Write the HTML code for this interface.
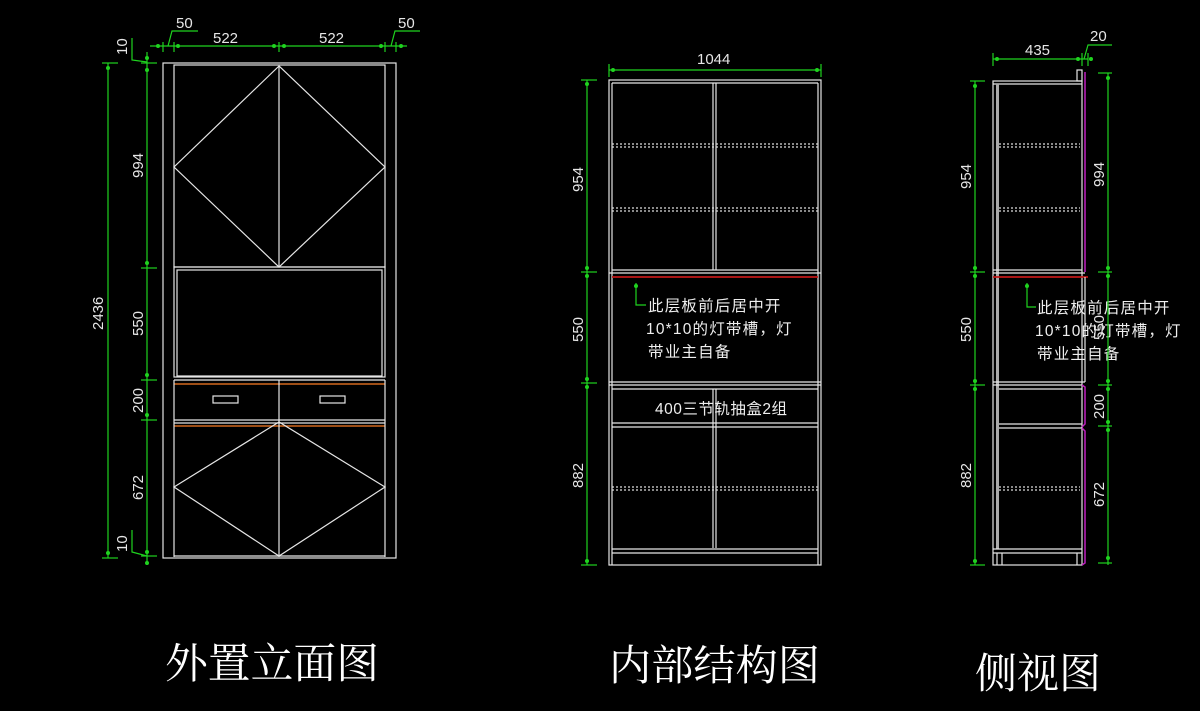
<!DOCTYPE html>
<html><head><meta charset="utf-8"><style>
html,body{margin:0;padding:0;background:#000;}
svg{display:block;}
.w{stroke:#e6e6e6;stroke-width:1.2;fill:none}
.g{stroke:#1fd31f;stroke-width:1.2;fill:none}
.o{stroke:#d2691e;stroke-width:1.5}
.r{stroke:#c01818;stroke-width:1.8}
.m{stroke:#c020c0;stroke-width:1.5;fill:none}
.d{stroke:#ddd;stroke-width:1.2;stroke-dasharray:2 2}
.t{fill:#e6e6e6;font-family:"Liberation Sans",sans-serif;font-size:15px}
.c{fill:#eee;font-family:"Liberation Sans","Noto Sans CJK SC",sans-serif;font-size:15.5px;letter-spacing:1.2px}
.h{fill:#fff;font-family:"Liberation Serif","Noto Serif CJK SC",serif;font-size:42px}
.dot{fill:#1fd31f}
</style></head><body>
<svg width="1200" height="711" viewBox="0 0 1200 711" xmlns="http://www.w3.org/2000/svg">
<!-- LEFT CABINET -->
<rect class="w" x="163" y="63" width="233" height="495"/>
<rect class="w" x="174" y="65" width="211" height="202"/>
<line class="w" x1="279" y1="66" x2="279" y2="267"/>
<polygon class="w" points="279,66 174,167 279,267 385,167" stroke="#bbb"/>
<rect class="w" x="174" y="267" width="211" height="110"/>
<rect class="w" x="177" y="270" width="205" height="106"/>
<line class="w" x1="174" y1="380" x2="385" y2="380"/>
<line class="o" x1="174" y1="384" x2="385" y2="384"/>
<line class="w" x1="279" y1="380" x2="279" y2="420"/>
<rect class="w" x="213" y="396" width="25" height="7"/>
<rect class="w" x="320" y="396" width="25" height="7"/>
<line class="w" x1="174" y1="420" x2="385" y2="420"/>
<line class="w" x1="174" y1="423" x2="385" y2="423"/>
<line class="o" x1="174" y1="426" x2="385" y2="426"/>
<line class="w" x1="174" y1="380" x2="174" y2="557"/>
<line class="w" x1="385" y1="380" x2="385" y2="557"/>
<line class="w" x1="279" y1="420" x2="279" y2="557"/>
<polygon class="w" points="279,422 174,487 279,556 385,487" stroke="#bbb"/>
<line class="w" x1="174" y1="556" x2="385" y2="556"/>
<!-- left dims -->
<line class="g" x1="150" y1="46" x2="407" y2="46"/>
<g class="g"><line x1="163" y1="42" x2="163" y2="52"/><line x1="174" y1="42" x2="174" y2="52"/><line x1="279" y1="42" x2="279" y2="52"/><line x1="385" y1="42" x2="385" y2="52"/><line x1="396" y1="42" x2="396" y2="52"/>
<polyline points="168,46 172,31 198,31"/><polyline points="391,46 395,31 420,31"/>
<line x1="147" y1="52" x2="147" y2="565"/>
<line x1="141" y1="63" x2="157" y2="63"/><line x1="141" y1="268" x2="157" y2="268"/><line x1="141" y1="380" x2="157" y2="380"/><line x1="141" y1="420" x2="157" y2="420"/><line x1="141" y1="556" x2="157" y2="556"/>
<polyline points="132,38 132,60 147,62"/><polyline points="132,530 132,552 147,556"/>
<line x1="108" y1="63" x2="108" y2="558"/><line x1="102" y1="63" x2="118" y2="63"/><line x1="102" y1="558" x2="118" y2="558"/>
</g>
<g class="dot"><circle cx="158" cy="46" r="2"/><circle cx="178" cy="46" r="2"/><circle cx="274" cy="46" r="2"/><circle cx="284" cy="46" r="2"/><circle cx="381" cy="46" r="2"/><circle cx="401" cy="46" r="2"/>
<circle cx="147" cy="58" r="2"/><circle cx="147" cy="70" r="2"/><circle cx="147" cy="263" r="2"/><circle cx="147" cy="375" r="2"/><circle cx="147" cy="415" r="2"/><circle cx="147" cy="552" r="2"/><circle cx="147" cy="563" r="2"/><circle cx="108" cy="68" r="2"/><circle cx="108" cy="553" r="2"/></g>
<text class="t" x="176" y="28">50</text><text class="t" x="398" y="28">50</text>
<text class="t" x="213" y="43">522</text><text class="t" x="319" y="43">522</text>
<g class="t"><text transform="translate(127,55) rotate(-90)">10</text><text transform="translate(143,178) rotate(-90)">994</text><text transform="translate(143,336) rotate(-90)">550</text><text transform="translate(143,413) rotate(-90)">200</text><text transform="translate(143,500) rotate(-90)">672</text><text transform="translate(127,552) rotate(-90)">10</text><text transform="translate(103,330) rotate(-90)">2436</text></g>

<!-- MIDDLE CABINET -->
<rect class="w" x="609" y="80" width="212" height="485"/>
<line class="w" x1="612" y1="83" x2="612" y2="565"/><line class="w" x1="818" y1="83" x2="818" y2="565"/>
<line class="w" x1="612" y1="83" x2="818" y2="83"/>
<line class="w" x1="713" y1="83" x2="713" y2="270"/><line class="w" x1="716" y1="83" x2="716" y2="270"/>
<line class="d" x1="612" y1="144" x2="818" y2="144"/><line class="d" x1="612" y1="147" x2="818" y2="147"/>
<line class="d" x1="612" y1="208" x2="818" y2="208"/><line class="d" x1="612" y1="211" x2="818" y2="211"/>
<line class="w" x1="612" y1="270" x2="818" y2="270"/><line class="w" x1="609" y1="273" x2="821" y2="273"/>
<line class="r" x1="612" y1="277" x2="818" y2="277"/>
<polyline class="g" points="636,283 636,305 646,305"/><circle class="dot" cx="636" cy="286" r="2"/>
<text class="c" x="648" y="311">此层板前后居中开</text>
<text class="c" x="646" y="334">10*10的灯带槽，灯</text>
<text class="c" x="648" y="357">带业主自备</text>
<line class="w" x1="609" y1="382" x2="821" y2="382"/><line class="w" x1="609" y1="385" x2="821" y2="385"/>
<line class="w" x1="612" y1="389" x2="818" y2="389"/>
<line class="w" x1="612" y1="423" x2="818" y2="423"/><line class="w" x1="612" y1="427" x2="818" y2="427"/>
<line class="w" x1="713" y1="389" x2="713" y2="548"/><line class="w" x1="716" y1="389" x2="716" y2="548"/>
<text class="c" x="655" y="414" style="letter-spacing:0.5px">400三节轨抽盒2组</text>
<line class="d" x1="612" y1="487" x2="818" y2="487"/><line class="d" x1="612" y1="490" x2="818" y2="490"/>
<line class="w" x1="612" y1="549" x2="818" y2="549"/><line class="w" x1="612" y1="553" x2="818" y2="553"/>
<line class="g" x1="609" y1="70" x2="821" y2="70"/><line class="g" x1="609" y1="64" x2="609" y2="77"/><line class="g" x1="821" y1="64" x2="821" y2="77"/>
<circle class="dot" cx="613" cy="70" r="2"/><circle class="dot" cx="817" cy="70" r="2"/>
<text class="t" x="697" y="64">1044</text>
<g class="g"><line x1="587" y1="80" x2="587" y2="565"/><line x1="581" y1="80" x2="597" y2="80"/><line x1="581" y1="272" x2="597" y2="272"/><line x1="581" y1="383" x2="597" y2="383"/><line x1="581" y1="565" x2="597" y2="565"/></g>
<g class="dot"><circle cx="587" cy="84" r="2"/><circle cx="587" cy="268" r="2"/><circle cx="587" cy="276" r="2"/><circle cx="587" cy="379" r="2"/><circle cx="587" cy="387" r="2"/><circle cx="587" cy="561" r="2"/></g>
<g class="t"><text transform="translate(583,192) rotate(-90)">954</text><text transform="translate(583,342) rotate(-90)">550</text><text transform="translate(583,488) rotate(-90)">882</text></g>

<!-- RIGHT CABINET -->
<rect class="w" x="993" y="81" width="89" height="484"/>
<line class="w" x1="993" y1="84" x2="1082" y2="84"/>
<rect x="996" y="84" width="3" height="465" fill="#aaa"/>
<rect class="w" x="1077" y="70" width="5" height="11"/>
<line class="d" x1="999" y1="144" x2="1080" y2="144"/><line class="d" x1="999" y1="147" x2="1080" y2="147"/>
<line class="d" x1="999" y1="208" x2="1080" y2="208"/><line class="d" x1="999" y1="211" x2="1080" y2="211"/>
<line class="w" x1="993" y1="270" x2="1082" y2="270"/><line class="w" x1="993" y1="273" x2="1085" y2="273"/>
<line class="r" x1="993" y1="277" x2="1088" y2="277"/>
<line class="w" x1="1085" y1="277" x2="1085" y2="382"/>
<line class="w" x1="993" y1="382" x2="1085" y2="382"/><line class="w" x1="993" y1="385" x2="1082" y2="385"/>
<line class="w" x1="999" y1="389" x2="1082" y2="389"/>
<line class="w" x1="999" y1="424" x2="1082" y2="424"/><line class="w" x1="999" y1="428" x2="1082" y2="428"/>
<line class="d" x1="999" y1="487" x2="1080" y2="487"/><line class="d" x1="999" y1="490" x2="1080" y2="490"/>
<line class="w" x1="993" y1="549" x2="1082" y2="549"/><line class="w" x1="993" y1="553" x2="1082" y2="553"/>
<line class="w" x1="997" y1="553" x2="997" y2="565"/><line class="w" x1="1002" y1="553" x2="1002" y2="565"/><line class="w" x1="1077" y1="553" x2="1077" y2="565"/>
<line class="m" x1="1085" y1="72" x2="1085" y2="272"/>
<polyline class="m" points="1082,385 1085,387 1085,424 1082,427"/>
<polyline class="m" points="1082,428 1085,431 1085,563 1082,565"/>
<polyline class="g" points="1027,283 1027,307 1036,307"/><circle class="dot" cx="1027" cy="286" r="2"/>
<text class="c" x="1037" y="313">此层板前后居中开</text>
<text class="c" x="1035" y="336">10*10的灯带槽，灯</text>
<text class="c" x="1037" y="359">带业主自备</text>
<text class="t" transform="translate(1104,340) rotate(-90)" fill="#bbb">550</text>
<g class="g"><line x1="993" y1="59" x2="1088" y2="59"/><line x1="993" y1="53" x2="993" y2="66"/><line x1="1082" y1="53" x2="1082" y2="66"/><line x1="1088" y1="53" x2="1088" y2="66"/><polyline points="1084,59 1088,45 1112,45"/>
<line x1="975" y1="81" x2="975" y2="565"/><line x1="970" y1="81" x2="985" y2="81"/><line x1="970" y1="272" x2="985" y2="272"/><line x1="970" y1="385" x2="985" y2="385"/><line x1="970" y1="565" x2="985" y2="565"/>
<line x1="1108" y1="73" x2="1108" y2="565"/><line x1="1098" y1="73" x2="1112" y2="73"/><line x1="1098" y1="272" x2="1112" y2="272"/><line x1="1098" y1="385" x2="1112" y2="385"/><line x1="1098" y1="426" x2="1112" y2="426"/><line x1="1098" y1="563" x2="1112" y2="563"/></g>
<g class="dot"><circle cx="997" cy="59" r="2"/><circle cx="1078" cy="59" r="2"/><circle cx="1091" cy="59" r="2"/><circle cx="975" cy="86" r="2"/><circle cx="975" cy="268" r="2"/><circle cx="975" cy="276" r="2"/><circle cx="975" cy="381" r="2"/><circle cx="975" cy="389" r="2"/><circle cx="975" cy="561" r="2"/>
<circle cx="1108" cy="78" r="2"/><circle cx="1108" cy="268" r="2"/><circle cx="1108" cy="276" r="2"/><circle cx="1108" cy="381" r="2"/><circle cx="1108" cy="389" r="2"/><circle cx="1108" cy="422" r="2"/><circle cx="1108" cy="430" r="2"/><circle cx="1108" cy="558" r="2"/></g>
<text class="t" x="1025" y="55">435</text><text class="t" x="1090" y="41">20</text>
<g class="t"><text transform="translate(971,189) rotate(-90)">954</text><text transform="translate(971,342) rotate(-90)">550</text><text transform="translate(971,488) rotate(-90)">882</text>
<text transform="translate(1104,187) rotate(-90)">994</text><text transform="translate(1104,419) rotate(-90)">200</text><text transform="translate(1104,507) rotate(-90)">672</text></g>

<!-- TITLES -->
<text class="h" x="165" y="678" textLength="214" lengthAdjust="spacingAndGlyphs">外置立面图</text>
<text class="h" x="609" y="680" textLength="211" lengthAdjust="spacingAndGlyphs">内部结构图</text>
<text class="h" x="975" y="688" textLength="126" lengthAdjust="spacingAndGlyphs">侧视图</text>
</svg>
</body></html>
